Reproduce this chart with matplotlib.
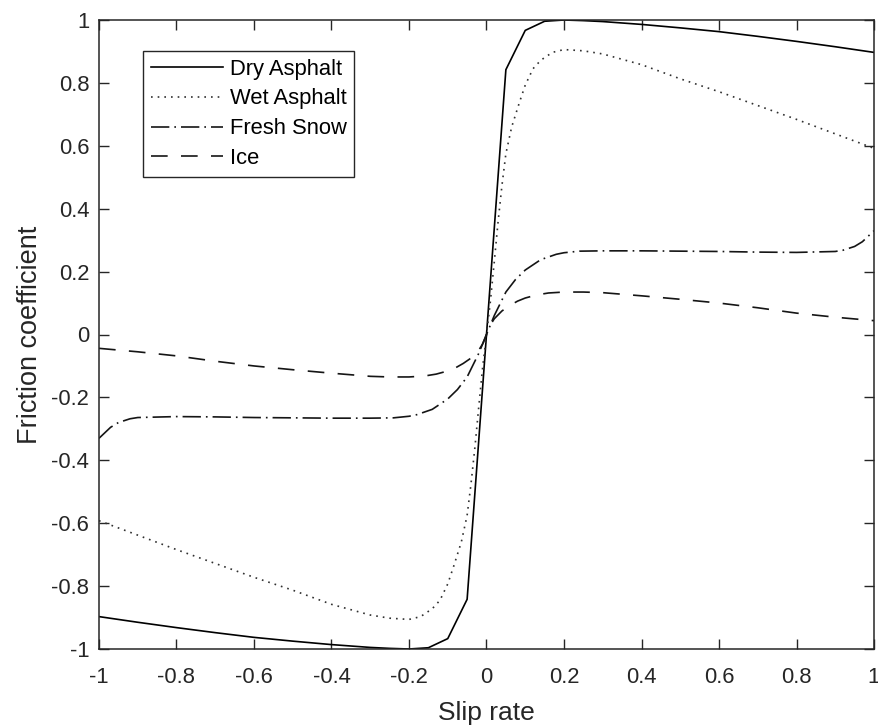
import numpy as np
import matplotlib.pyplot as plt

plt.rcParams['font.family'] = ['Liberation Sans', 'DejaVu Sans']

# ================================
# DATA
# ================================
slip_dry = [-1.0, -0.9, -0.8, -0.7, -0.6, -0.5, -0.4, -0.3, -0.25, -0.2, -0.15, -0.1, -0.05,
            0.0, 0.05, 0.1, 0.15, 0.2, 0.25, 0.3, 0.4, 0.5, 0.6, 0.7, 0.8, 0.9, 1.0]
mu_dry = [-0.897, -0.915, -0.932, -0.948, -0.963, -0.975, -0.986, -0.995, -0.998, -1.0, -0.996, -0.967, -0.842,
          0.0, 0.842, 0.967, 0.996, 1.0, 0.998, 0.995, 0.986, 0.975, 0.963, 0.948, 0.932, 0.915, 0.897]

slip_wet = [-1.0, -0.9, -0.8, -0.7, -0.6, -0.5, -0.4, -0.3, -0.25, -0.2, -0.17, -0.14, -0.12, -0.1,
            -0.085, -0.065, -0.05, -0.04, -0.03, -0.02, -0.01, 0.0,
            0.01, 0.02, 0.03, 0.04, 0.05, 0.065, 0.085, 0.1, 0.12, 0.14, 0.17, 0.2,
            0.25, 0.3, 0.4, 0.5, 0.6, 0.7, 0.8, 0.9, 1.0]
mu_wet = [-0.592, -0.638, -0.684, -0.728, -0.772, -0.813, -0.858, -0.892, -0.902, -0.906, -0.897, -0.872, -0.845, -0.793,
          -0.738, -0.66, -0.575, -0.475, -0.36, -0.23, -0.105, 0.0,
          0.105, 0.23, 0.36, 0.475, 0.575, 0.66, 0.738, 0.793, 0.845, 0.872, 0.897, 0.906,
          0.902, 0.892, 0.858, 0.813, 0.772, 0.728, 0.684, 0.638, 0.592]

slip_snow = [-1.0, -0.97, -0.95, -0.92, -0.9, -0.8, -0.7, -0.6, -0.5, -0.4, -0.3, -0.24, -0.2, -0.18,
             -0.14, -0.1, -0.075, -0.05, -0.03, -0.02, -0.01, 0.0,
             0.01, 0.02, 0.03, 0.05, 0.075, 0.1, 0.14, 0.18, 0.2, 0.24, 0.3, 0.4, 0.5,
             0.6, 0.7, 0.8, 0.9, 0.92, 0.95, 0.97, 1.0]
mu_snow = [-0.33, -0.295, -0.28, -0.268, -0.264, -0.261, -0.262, -0.264, -0.265, -0.266, -0.266, -0.265, -0.26, -0.255,
           -0.238, -0.205, -0.175, -0.135, -0.085, -0.06, -0.03, 0.0,
           0.03, 0.06, 0.085, 0.135, 0.175, 0.205, 0.238, 0.255, 0.26, 0.265, 0.266, 0.266, 0.265,
           0.264, 0.262, 0.261, 0.264, 0.268, 0.28, 0.295, 0.33]

slip_ice = [-1.0, -0.9, -0.8, -0.7, -0.6, -0.5, -0.4, -0.3, -0.25, -0.2, -0.16, -0.13, -0.1,
            -0.08, -0.06, -0.04, -0.02, -0.01, 0.0,
            0.01, 0.02, 0.04, 0.06, 0.08, 0.1, 0.13, 0.16, 0.2, 0.25, 0.3,
            0.4, 0.5, 0.6, 0.7, 0.8, 0.9, 1.0]
mu_ice = [-0.044, -0.055, -0.068, -0.085, -0.1, -0.112, -0.123, -0.133, -0.135, -0.135, -0.132, -0.126, -0.116,
          -0.106, -0.092, -0.075, -0.05, -0.03, 0.0,
          0.03, 0.05, 0.075, 0.092, 0.106, 0.116, 0.126, 0.132, 0.135, 0.135, 0.133,
          0.123, 0.112, 0.1, 0.085, 0.068, 0.055, 0.044]

labels = ['Dry Asphalt', 'Wet Asphalt', 'Fresh Snow', 'Ice']
ticks = [-1, -0.8, -0.6, -0.4, -0.2, 0, 0.2, 0.4, 0.6, 0.8, 1]
tick_labels = ['-1', '-0.8', '-0.6', '-0.4', '-0.2', '0', '0.2', '0.4', '0.6', '0.8', '1']

# ================================
# PLOT
# ================================
fig = plt.figure(figsize=(8.79, 7.26), dpi=100)
ax = fig.add_axes([99/879, 77/726, 775/879, 629/726])

lw = 1.2
ax.plot(slip_dry, mu_dry, color='black', lw=lw, linestyle='-', label=labels[0])
ax.plot(slip_wet, mu_wet, color='#303030', lw=lw, linestyle=(0, (1, 3)), label=labels[1])
ax.plot(slip_snow, mu_snow, color='#151515', lw=lw, linestyle=(0, (11, 3, 1, 3)), label=labels[2])
ax.plot(slip_ice, mu_ice, color='#151515', lw=lw, linestyle=(0, (10, 8)), label=labels[3])

ax.set_xlim(-1, 1)
ax.set_ylim(-1, 1)
ax.set_xticks(ticks)
ax.set_xticklabels(tick_labels)
ax.set_yticks(ticks)
ax.set_yticklabels(tick_labels)

dark = '#262626'
for s in ax.spines.values():
    s.set_color(dark)
    s.set_linewidth(1.1)
ax.tick_params(direction='in', length=7, width=1.0, color=dark, labelcolor=dark,
               labelsize=15.8, top=True, right=True)
ax.tick_params(axis='x', pad=13)
ax.tick_params(axis='y', pad=7)

ax.set_xlabel('Slip rate', fontsize=19, color=dark, labelpad=9)
ax.set_ylabel('Friction coefficient', fontsize=19.5, color=dark, labelpad=6)

leg = ax.legend(loc='upper left', bbox_to_anchor=(44/775, 598/629), borderaxespad=0,
                fontsize=15.8, frameon=True, fancybox=False, handlelength=3.3,
                handletextpad=0.3, labelspacing=0.4, borderpad=0.35)
leg.get_frame().set_edgecolor(dark)
leg.get_frame().set_linewidth(1.0)
leg.get_frame().set_alpha(1)
for t in leg.get_texts():
    t.set_color('black')

fig.savefig('out.png', dpi=100)
